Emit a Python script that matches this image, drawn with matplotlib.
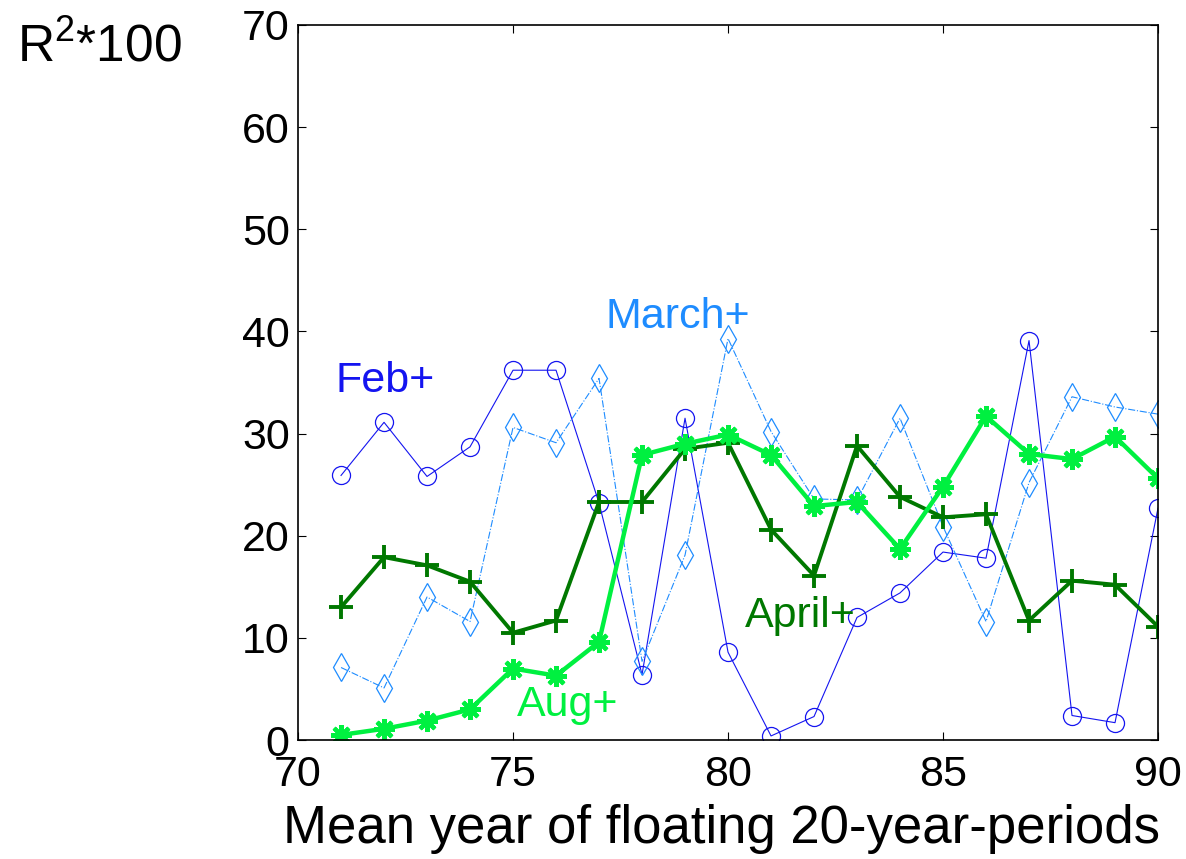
import matplotlib
matplotlib.use('Agg')
import matplotlib.pyplot as plt

plt.rcParams['font.family'] = ['Liberation Sans', 'DejaVu Sans']
plt.rcParams['mathtext.fontset'] = 'custom'
plt.rcParams['mathtext.rm'] = 'Liberation Sans'

years = list(range(71, 91))

feb = [25.9, 31.1, 25.8, 28.7, 36.2, 36.2, 23.2, 6.4, 31.5, 8.6,
       0.4, 2.3, 12.0, 14.4, 18.4, 17.8, 39.1, 2.4, 1.7, 22.7]
march = [7.1, 5.1, 14.0, 11.6, 30.6, 29.1, 35.4, 7.7, 18.1, 39.3,
         30.2, 23.6, 23.5, 31.5, 20.9, 11.6, 25.2, 33.6, 32.6, 31.9]
april = [13.0, 17.9, 17.1, 15.5, 10.5, 11.7, 23.3, 23.3, 28.5, 29.1,
         20.6, 16.1, 28.8, 23.8, 21.8, 22.1, 11.7, 15.6, 15.2, 11.1]
aug = [0.5, 1.1, 1.9, 3.0, 7.0, 6.3, 9.6, 27.9, 29.0, 29.9,
       27.9, 22.9, 23.3, 18.7, 24.8, 31.7, 28.0, 27.5, 29.7, 25.6]

c_feb = '#1414F0'
c_march = '#1E8CFF'
c_april = '#007800'
c_aug = '#00F040'

fig = plt.figure(figsize=(11.86, 8.59), dpi=100)
ax = fig.add_axes([0.2513, 0.1385, 0.7251, 0.8325])

ax.plot(years, feb, color=c_feb, lw=0.8, marker='o', ms=13,
        mfc='none', mec=c_feb, mew=0.9)
ax.plot(years, march, color=c_march, lw=0.8, ls='-.', marker='d', ms=14,
        mfc='none', mec=c_march, mew=0.9)
ax.plot(years, april, color=c_april, lw=2.8, marker='+', ms=17, mew=2.8)
ax.plot(years, aug, color=c_aug, lw=3.2, marker=(8, 2, 0), ms=15, mew=3)

fs = 31
ax.text(70.86, 34.1, 'Feb+', color=c_feb, fontsize=fs, va='baseline')
ax.text(77.14, 40.3, 'March+', color=c_march, fontsize=fs, va='baseline')
ax.text(80.4, 11.06, 'April+', color=c_april, fontsize=fs, va='baseline')
ax.text(75.09, 2.35, 'Aug+', color=c_aug, fontsize=fs, va='baseline')

ax.set_xlim(70, 90)
ax.set_ylim(0, 70)
ax.set_xticks([70, 75, 80, 85, 90])
ax.set_yticks(range(0, 71, 10))
ax.tick_params(direction='in', length=6, width=0.8, labelsize=fs,
               top=True, right=True)
ax.tick_params(axis='x', pad=11)
ax.tick_params(axis='y', pad=6)
for s in ax.spines.values():
    s.set_linewidth(1.2)

ax.set_xlabel('Mean year of floating 20-year-periods', fontsize=38, labelpad=6)
ax.xaxis.label.set_x(0.492)
fig.text(0.0143, 0.928, r'$\mathregular{R^2}$*100', fontsize=37, va='baseline')

fig.savefig('out.png', dpi=100)
